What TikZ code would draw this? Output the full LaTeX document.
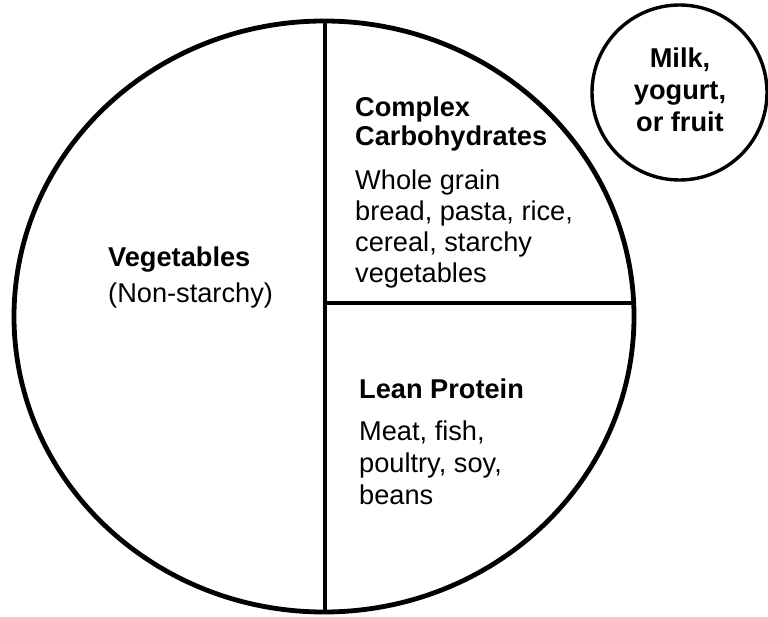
\documentclass[tikz,border=0pt]{standalone}
\usepackage{fontspec}
\setmainfont{Liberation Sans}
\begin{document}
\begin{tikzpicture}[x=1pt,y=-1pt,
  txt/.style={inner sep=0pt, anchor=base west, font=\fontsize{27.2}{30}\selectfont},
  ttl/.style={inner sep=0pt, anchor=base west, font=\fontsize{27.2}{30}\selectfont\bfseries},
  ctr/.style={inner sep=0pt, anchor=base, font=\fontsize{27.2}{30}\selectfont\bfseries},
  plate/.style={line width=4.8pt},
  cup/.style={line width=3.4pt}]
\useasboundingbox (0,0) rectangle (768,617);
% plate
\begin{scope}
  \clip (324,316.5) ellipse [x radius=310, y radius=295.5];
  \draw[plate] (325,0) -- (325,617);
  \draw[plate] (325,303) -- (700,303);
\end{scope}
\draw[plate] (324,316.5) ellipse [x radius=310, y radius=295.5];
% cup
\draw[cup] (679.5,92.5) circle [radius=87.5];
% texts
\node[ttl] (veg) at (108,267) {Vegetables};
\node[txt] (veg2) at (108,303) {(Non-starchy)};
\node[ttl] (cc1) at (355,117) {Complex};
\node[ttl] (cc2) at (355,146) {Carbohydrates};
\node[txt] (cc3) at (355,190) {Whole grain};
\node[txt] (cc4) at (355,221) {bread, pasta, rice,};
\node[txt] (cc5) at (355,252) {cereal, starchy};
\node[txt] (cc6) at (355,283) {vegetables};
\node[ttl] (lp1) at (359,398) {Lean Protein};
\node[txt] (lp2) at (359,440) {Meat, fish,};
\node[txt] (lp3) at (359,472) {poultry, soy,};
\node[txt] (lp4) at (359,504) {beans};
\node[ctr] (m1) at (680,68) {Milk,};
\node[ctr] (m2) at (680,100) {yogurt,};
\node[ctr] (m3) at (680,132) {or fruit};
\end{tikzpicture}
\end{document}
